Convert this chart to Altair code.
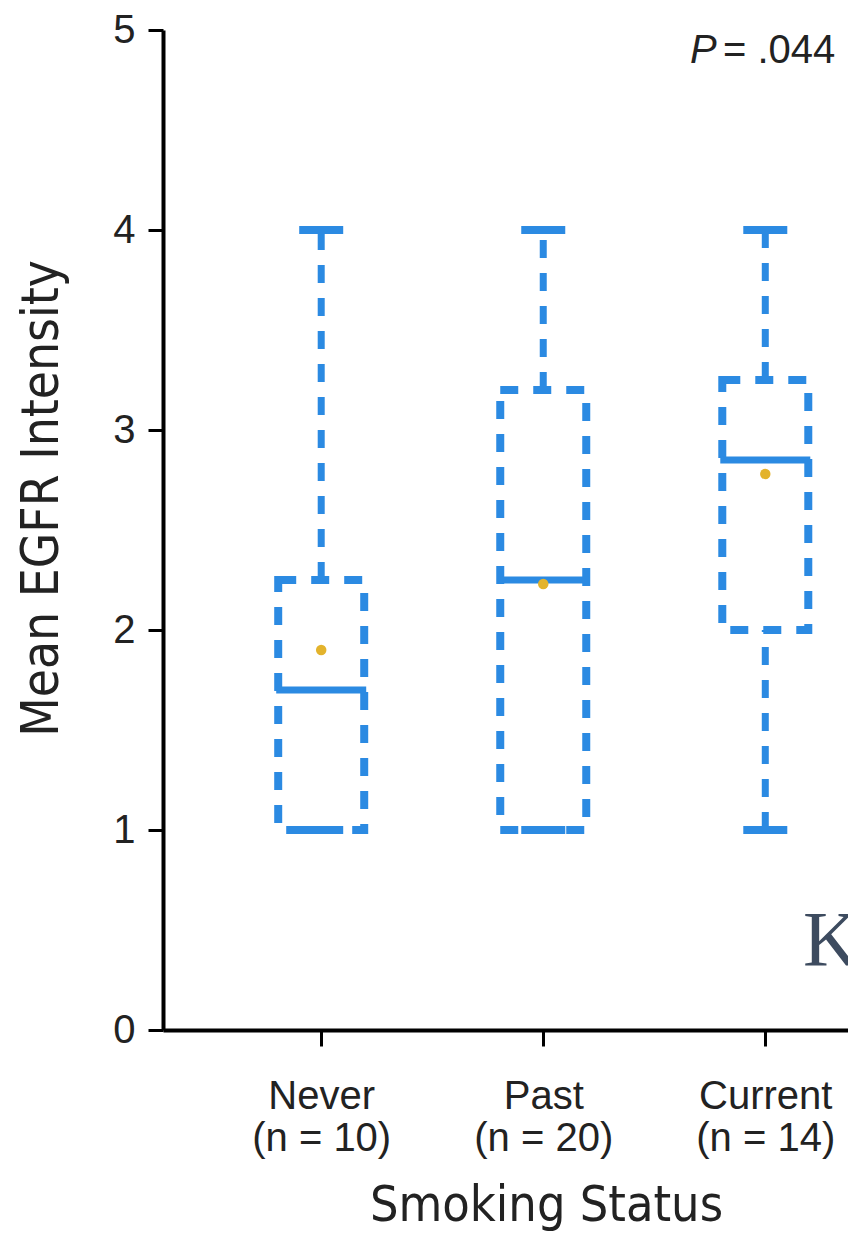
import altair as alt
import pandas as pd

categories = ["Never", "Past", "Current"]
n_values = [10, 20, 14]
whisker_low = [1.0, 1.0, 1.0]
q1 = [1.0, 1.0, 2.0]
median = [1.7, 2.25, 2.85]
q3 = [2.25, 3.2, 3.25]
whisker_high = [4.0, 4.0, 4.0]
means = [1.9, 2.23, 2.78]
y_ticks = [0, 1, 2, 3, 4, 5]

df = pd.DataFrame({
    "cat": categories,
    "pos": list(range(1, len(categories) + 1)),
    "n": n_values,
    "lo": whisker_low,
    "q1": q1,
    "med": median,
    "q3": q3,
    "hi": whisker_high,
    "mean": means,
})

label_arr = ",".join(
    "['{}','(n = {})']".format(c, n) for c, n in zip(categories, n_values)
)
label_expr = "[" + label_arr + "][datum.value - 1]"

BLUE = "#2b8ae2"
YELLOW = "#e3b32c"
TICK_FONT = "Liberation Sans"
TITLE_FONT = "Liberation Sans Narrow, DejaVu Sans Condensed, Liberation Sans"

xscale = alt.Scale(domain=[0.31, 3.35], nice=False, zero=False)
yscale = alt.Scale(domain=[0, 5], nice=False)

x_axis = alt.Axis(
    values=[1, 2, 3],
    labelExpr=label_expr,
    title="Smoking Status",
    grid=False,
    domainWidth=4,
    domainColor="black",
    tickColor="black",
    tickWidth=3,
    tickSize=16,
    labelFont=TICK_FONT,
    labelFontSize=40,
    labelColor="#222",
    labelLineHeight=42,
    labelPadding=30,
    titleFont=TITLE_FONT,
    titleFontSize=50,
    titleFontWeight="normal",
    titleColor="#222",
    titleX=383,
    titleY=175,
    titleBaseline="middle",
    titleAlign="center",
)

y_axis = alt.Axis(
    values=y_ticks,
    format="d",
    title="Mean EGFR Intensity",
    grid=False,
    domainWidth=4,
    domainColor="black",
    tickColor="black",
    tickWidth=3,
    tickSize=15,
    labelFont=TICK_FONT,
    labelFontSize=40,
    labelColor="#222",
    labelPadding=13,
    titleFont=TITLE_FONT,
    titleFontSize=51,
    titleFontWeight="normal",
    titleColor="#222",
    titleX=-121,
    titleY=468,
    titleBaseline="middle",
    titleAlign="center",
    titleAngle=270,
)

base = alt.Chart(df)

whisk_top = base.mark_rule(color=BLUE, strokeWidth=7, strokeDash=[18, 15]).encode(
    x=alt.X("pos:Q", scale=xscale, axis=x_axis),
    y=alt.Y("q3:Q", scale=yscale, axis=y_axis),
    y2="hi:Q",
)
whisk_bot = base.mark_rule(color=BLUE, strokeWidth=7, strokeDash=[18, 15]).encode(
    x=alt.X("pos:Q", scale=xscale),
    y=alt.Y("lo:Q", scale=yscale),
    y2="q1:Q",
)
box = base.mark_bar(
    width=86, orient="vertical", fillOpacity=0, stroke=BLUE, strokeWidth=8,
    strokeDash=[18, 15],
).encode(
    x=alt.X("pos:Q", scale=xscale),
    y=alt.Y("q1:Q", scale=yscale),
    y2="q3:Q",
)
med = base.mark_tick(orient="horizontal", color=BLUE, size=90, thickness=7, opacity=1).encode(
    x=alt.X("pos:Q", scale=xscale),
    y=alt.Y("med:Q", scale=yscale),
)
cap_hi = base.mark_tick(orient="horizontal", color=BLUE, size=44, thickness=8, opacity=1).encode(
    x=alt.X("pos:Q", scale=xscale),
    y=alt.Y("hi:Q", scale=yscale),
)
cap_lo = base.mark_tick(orient="horizontal", color=BLUE, size=44, thickness=8, opacity=1).encode(
    x=alt.X("pos:Q", scale=xscale),
    y=alt.Y("lo:Q", scale=yscale),
)
mean_pt = base.mark_circle(color=YELLOW, size=110, opacity=1).encode(
    x=alt.X("pos:Q", scale=xscale),
    y=alt.Y("mean:Q", scale=yscale),
)

p_label = alt.Chart(pd.DataFrame({"t": ["P"]})).mark_text(
    font=TICK_FONT, fontSize=40, fontStyle="italic", align="left", baseline="alphabetic", color="#222"
).encode(x=alt.value(527), y=alt.value(33), text="t:N")
p_value = alt.Chart(pd.DataFrame({"t": ["= .044"]})).mark_text(
    font=TICK_FONT, fontSize=40, align="left", baseline="alphabetic", color="#222"
).encode(x=alt.value(560), y=alt.value(33), text="t:N")
k_mark = alt.Chart(pd.DataFrame({"t": ["K"]})).mark_text(
    font="Liberation Serif", fontSize=78, align="left", baseline="alphabetic", color="#3d4b5f"
).encode(x=alt.value(640), y=alt.value(935), text="t:N")

chart = alt.layer(
    whisk_top, whisk_bot, box, med, cap_hi, cap_lo, mean_pt, p_label, p_value, k_mark
).properties(
    width=685,
    height=1000,
    autosize=alt.AutoSizeParams(type="none"),
    padding={"left": 163, "top": 30, "right": 0, "bottom": 207},
    background="white",
).configure_view(stroke=None)

chart.save("out.html", embed_options={"renderer": "svg", "actions": False})
